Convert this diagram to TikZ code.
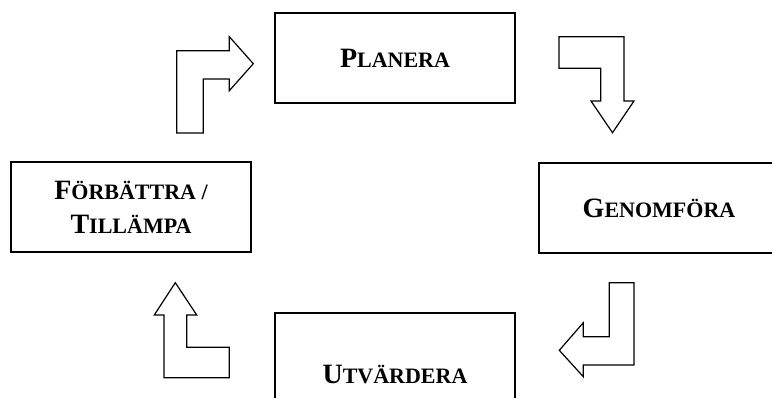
\documentclass[tikz,border=0pt]{standalone}
\usepackage{fontspec}
\setmainfont{Liberation Serif}
\newcommand\kap[2]{{\fontsize{28}{34}\selectfont #1}{\fontsize{22}{34}\selectfont #2}}
\tikzset{ruta/.style={draw,line width=1.2pt,minimum width=240pt,minimum height=90pt,align=center,font=\bfseries\fontsize{22}{34}\selectfont,inner sep=0pt}}
\begin{document}
\begin{tikzpicture}[x=1pt,y=-1pt,line width=1.2pt,line join=miter]
        \useasboundingbox (0,0) rectangle (772,398);
        \clip (0,0) rectangle (772,398);
        \node[ruta] (planera) at (395,58) {\kap{P}{LANERA}};
        \node[ruta] (genomfora) at (659,208) {\kap{G}{ENOMFÖRA}};
        \node[ruta,minimum height=122pt] (utvardera) at (395,374) {\kap{U}{TVÄRDERA}};
        \node[ruta] (forbattra) at (131,207) {\kap{F}{ÖRBÄTTRA /}\\\kap{T}{ILLÄMPA}};
        \draw (176.7,133)--(176.7,50.7)--(229.3,50.7)--(229.3,36.7)--(253.3,63.7)--(229.3,90.7)--(229.3,79)--(203.3,79)--(203.3,133)--cycle;
        \draw (559,36.7)--(624,36.7)--(624,101)--(634,101)--(612.5,132.7)--(591,101)--(600.7,101)--(600.7,68.3)--(559,68.3)--cycle;
        \draw (609.3,282.7)--(634,282.7)--(634,365)--(583.3,365)--(583.3,376.7)--(559.3,350.3)--(583.3,322.7)--(583.3,336.7)--(609.3,336.7)--cycle;
        \draw (175.3,282.7)--(196.7,315)--(186.7,315)--(186.7,347.3)--(229.3,347.3)--(229.3,377.7)--(164,377.7)--(164,315)--(154.3,315)--cycle;
    \end{tikzpicture}
\end{document}
